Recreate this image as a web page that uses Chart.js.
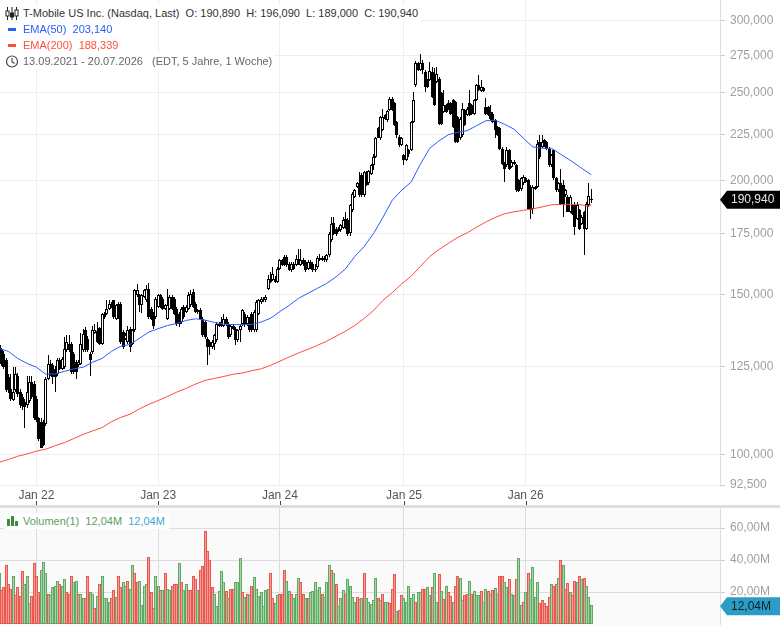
<!DOCTYPE html>
<html lang="de">
<head>
    <meta charset="UTF-8">
    <title>T-Mobile US Inc.</title>
    <script src="https://cdn.jsdelivr.net/npm/chart.js"></script>
    <style>
        body {
            margin: 0;
            background-color: white;
            font-family: "Liberation Sans", Arial, sans-serif;
        }
        #page {
            position: relative;
            width: 780px;
            height: 625px;
            overflow: hidden;
        }
        #divider {
            position: absolute;
            left: 0;
            top: 505px;
            width: 780px;
            height: 3px;
            background-color: #dedede;
        }
        #volume-bg {
            position: absolute;
            left: 0;
            top: 508px;
            width: 720px;
            height: 117px;
            background-color: #fafafa;
        }
        canvas {
            position: absolute;
            left: -1px;
        }
        #priceChart { top: 0; }
        #volumeChart { top: 508px; }
        .row {
            position: absolute;
            left: 0;
            height: 16px;
            line-height: 16px;
            font-size: 11px;
            background-color: white;
            padding-right: 3px;
            white-space: pre;
        }
        .row span { position: relative; }
        .row svg { position: absolute; left: 5px; top: 2px; }
        .row .label { margin-left: 23px; }
        #row1 { top: 5px; color: #333; }
        #row2 { top: 21px; color: #2a5cff; }
        #row3 { top: 37px; color: #ff4d3d; }
        #row4 { top: 53px; color: #666; }
        #row5 {
            top: 513px;
            height: 16px;
            color: #5a9e5e;
            left: 4px;
            padding-right: 4px;
        }
        #row5 .label { margin-left: 19px; }
        #row5 .blue { color: #45a5d6; }
    </style>
</head>
<body>
    <div id="page">
        <div id="divider"></div>
        <div id="volume-bg"></div>
        <canvas id="priceChart" width="781" height="505"></canvas>
        <canvas id="volumeChart" width="781" height="117"></canvas>

        <div class="row" id="row1"><svg width="14" height="13" viewBox="0 0 14 13"><path d="M2.5 0v13M7 0v13M11.5 0v13" stroke="#222" fill="none"/><rect x="1" y="4" width="3" height="5" fill="white" stroke="#222"/><rect x="5.5" y="6" width="3" height="4" fill="#222" stroke="#222"/><rect x="10" y="3" width="3" height="6" fill="white" stroke="#222"/></svg><span class="label">T-Mobile US Inc. (Nasdaq, Last)  O: 190,890  H: 196,090  L: 189,000  C: 190,940</span></div>
        <div class="row" id="row2"><svg width="14" height="12" viewBox="0 0 14 12"><rect x="3" y="5" width="8" height="3" fill="#2a5cff"/></svg><span class="label">EMA(50)  203,140</span></div>
        <div class="row" id="row3"><svg width="14" height="12" viewBox="0 0 14 12"><rect x="3" y="5" width="8" height="3" fill="#ff4d3d"/></svg><span class="label">EMA(200)  188,339</span></div>
        <div class="row" id="row4"><svg width="14" height="13" viewBox="0 0 14 13"><circle cx="7" cy="6.5" r="5.5" fill="none" stroke="#444" stroke-width="1.2"/><path d="M7 3v3.7l2.5 1.8" fill="none" stroke="#444" stroke-width="1.1"/></svg><span class="label">13.09.2021 - 20.07.2026   (EDT, 5 Jahre, 1 Woche)</span></div>
        <div class="row" id="row5"><svg width="12" height="12" viewBox="0 0 12 12" style="left:3px;top:2px"><rect x="0" y="4" width="3" height="7" fill="#3d8b40"/><rect x="4" y="1" width="3" height="10" fill="#3d8b40"/><rect x="8" y="6" width="3" height="5" fill="#3d8b40"/></svg><span class="label">Volumen(1)  12,04M  <span class="blue">12,04M</span></span></div>
    </div>

    <script>
        // weekly candles 13.09.2021 - 20.07.2026
        const opens = [
            131.8,130.1,129,126.9,121.6,118.1,114.8,117.6,122.1,117.1,
            115.6,114.2,113.2,114.6,120.1,119.6,115.1,109.5,108.5,108.2,
            108,121.1,125.8,125.3,124.2,122.6,126.9,124.2,124.8,130.1,
            132.4,132.4,129,126.4,125.3,125.8,130.1,136.9,134,129,
            129.6,136,136.7,137.6,132.4,142.8,142.8,144.6,146.5,147.7,
            141,146.5,146.5,136.3,134,132.9,137.5,132.4,136.9,149.6,
            149.6,145.9,149,147.7,152.2,144.6,142.8,141.6,145.3,149.6,
            148.3,144.6,141,144.6,149,148.3,144.6,142.8,139.8,145.3,
            143.4,144.6,145.9,150.9,146.5,144,144,141,139.8,134,
            132.9,131.2,132.4,133.5,138.6,139.8,138.6,141,139.2,135.2,
            138.6,137.5,133.5,136.9,139.2,142.8,139.2,141,142.8,136.9,
            136.9,142.8,147.1,148.3,147.7,152.2,156,155.4,156,154.9,
            160,163.5,164.9,164.9,162.1,159.4,162.1,161.4,164.2,161.4,
            163.8,162.8,160,162.8,162.1,159.4,160.7,163.8,164.6,164.6,
            163.5,165.6,172,179.7,177.1,176.1,176.4,177.6,181.7,181.2,
            175.2,185.6,192.2,197,198.7,202.9,192.8,204.5,198.7,203.7,
            208,212.4,228.4,222.7,227.4,236.2,233.2,239.2,246.4,243.4,
            232.2,223.6,218.9,213.3,211.1,216.1,216.1,232.2,254.9,269.4,
            264.8,269.4,263.6,258.1,258.1,263.6,259.2,257,259.2,249.6,
            238.2,242.3,243.4,243.4,245.4,244.3,235.2,222.7,224.5,239.2,
            236.2,243.4,242.3,237.2,245.4,254.9,251.3,252.8,241.2,241.2,
            238.2,237.2,233.2,229.4,228.4,217,208.9,208,216.1,207.1,
            209.8,208,200.3,195.7,198.7,201.2,200.3,197,186.3,196.1,
            197,220.8,218,221.7,220.8,217,208,216.1,201.2,195.3,
            198.7,197.9,192.8,192,184.8,188,188.7,181.7,185.6,179.4,
            184.8,177.1,188,190.89
        ];
        const closes = [
            127.9,125.8,124.8,117.6,117.6,115.1,117.1,122.6,116.6,113.2,
            112.9,112.8,117.1,120.1,115.6,109.5,109,104,101.7,102.3,
            121.1,125.8,122.6,121.6,121.6,126.9,124.2,127.4,130.6,133,
            130.1,123.2,123.2,123.2,126.4,132.4,135.7,130.1,130.1,126.9,
            136.9,136.9,133,132.4,142.8,141.6,144.6,146.5,145.3,141.6,
            145.9,141.6,132.9,131.2,135.2,136.9,131.2,136.9,151.5,151.5,
            145.9,149.6,151.5,152.2,141.6,141,138.6,148.3,149.6,145.3,
            144.6,145.9,145.9,149,144.6,142.8,139.2,139.2,144.6,141.6,
            145.3,149.8,150.2,145.3,143.4,143.4,141,135.2,134.6,131.2,
            131.2,132.9,135.2,139.2,139.2,138.6,141,139.2,134.6,138.6,
            137.5,133.5,136.9,138.6,144,138.8,141.6,136.9,136.9,143.4,
            147.1,147.7,148.3,147.7,149,156,154.9,158,154.9,160,
            163.5,161.4,161.4,161.4,159.4,162.1,160,164.2,162.1,163.5,
            161.8,159.4,162.8,160.7,159.4,160,164.6,164.6,163.8,163.5,
            165.6,174.9,179.4,174.9,174.9,177.1,178.6,180.9,177.6,174.9,
            188,193.6,195.3,198.7,192.8,192.8,204.5,197.9,205,208,
            212.4,222.7,223.2,235.2,235.2,234.2,238.6,246.4,239.2,230.4,
            224.5,218.9,222.7,211.1,218.9,214.2,232.2,245.4,269.8,264.8,
            269.4,264.8,254,254,264.3,247.4,242.3,262.1,231.2,231,
            242.3,238.2,240.2,237.2,229.4,220.8,220.8,234.2,240.2,230.4,
            240.2,236.2,237.2,245.4,254.9,251.7,253.4,251.3,237.2,236.2,
            234.2,232.2,227.4,224.5,217,208.9,206.3,216.1,206.3,209.8,
            208.6,195.3,194.8,201.2,202,199.5,186.3,185.9,197,197,
            219.8,212.4,220.8,218.9,217,208,213.3,201.2,195.3,198.7,
            188.7,188,195.3,184.8,192,184,177.9,188,177.1,182.5,
            177.1,188.7,192.3,190.94
        ];
        const highs = [
            132.3,131,130,127.5,122.5,122.7,124.8,124.8,123,118,
            116.5,115,122.1,122.1,122.1,120.5,116,110,109.5,109,
            121.5,128.5,126.9,126,125,127.5,127.5,128,134.6,135.2,
            135.2,133,129.5,127,127,136,137.5,138,135,129.5,
            138.5,139,140,138,143.2,143.5,147.7,147.7,147,148,
            146.5,147,147,137,136,138.6,138,137.5,152.2,154,
            150.2,150.2,152.2,153.4,154.5,145.3,143.4,149,150,150.2,
            149,146.5,152.2,149.6,149.6,149,145.3,143.4,145.3,146,
            146,150.9,151.5,152,147,144.6,144.8,141.6,140.4,134.6,
            133.5,133.5,135.8,139.8,140,141.6,142.8,141.6,139.8,139.2,
            139.2,138,137.5,139.2,144.6,143.4,142.2,141.6,143.4,144,
            147.7,148.3,149,149,149.9,157.4,158.7,160.7,157,160.7,
            164.2,164.2,165.6,165.6,162.8,162.8,162.8,165.6,168.4,168.4,
            164.5,163.5,163.5,163.5,162.8,162,165.3,166.3,165.3,165.3,
            166.3,175.6,182.5,182.5,177.8,177.8,179.4,182.5,184.8,182,
            188.8,194.4,196.1,199.5,204.5,204,205.3,205.3,205.8,208.8,
            214,223.5,229.4,236,240,237,239.4,247.4,247.4,244.3,
            233,224.5,223.6,214,219.6,217,233,250.6,271.1,270,
            275.8,272,264.8,258.8,270.5,267,265.9,267,260,250.6,
            251.7,243,245.4,244,246.4,245,236,235,243.4,240,
            241,251.7,243,246.4,255.8,261.4,258.1,253.6,246.8,242,
            242.3,238,234,230,229,217.8,209.6,218,217,210.6,
            211.1,208.8,201,202,202.8,202,201,197.8,197.8,197.6,
            221.7,224.5,224.5,222.5,221.5,217.8,214,217,202,199.4,
            206.3,200.3,196,192.8,192.8,188.7,189.4,189.5,186.3,183.2,
            185.5,189.4,198.9,196.09
        ];
        const lows = [
            126.9,125,124,117,116.8,114.6,114.5,117,115.5,112.5,
            112,106.9,112.5,114,115,109,108.5,103.5,101.5,102,
            107.5,120.8,122.1,119.6,117.1,122,123.7,123.7,124.2,129.5,
            129.5,122.5,122.7,121.1,124.8,125.3,129.5,129.5,129.5,122.1,
            129,135.5,132.5,132,131.8,141,142.5,144,144.8,141,
            140.6,141,132.4,130.7,133.5,132.4,129.6,132,136.5,149,
            143.4,143.2,148.5,147.2,141,140.6,137.5,141,144.8,144.8,
            144,144,140.6,144,144,142.2,138.6,138,139.2,141,
            143,144,145.3,144.8,143,142.8,140.4,134.6,134,125.3,
            128.5,130.7,130.1,133,138,138,138,138.6,134,134.6,
            137,131.8,133,132.9,138.6,138.2,138.6,136.3,136.3,136.3,
            136.3,142.2,146.5,147.1,147.1,151.5,154.4,155,154.4,154.4,
            159.4,161,161,160.7,159,158.7,159.4,161,161.6,161,
            161.2,158.7,159.4,160,158.7,158.7,160,163.2,163.2,163,
            163,165,171.3,174.2,173.8,175.5,175.8,177,177,173.8,
            173.8,185,191.5,196.2,192,192,192,197.2,198,203,
            205.4,211.8,222.7,222,226.8,233.5,232.2,238.5,238.5,229.8,
            222.7,218,218.2,208,210.4,212.4,215.5,231.5,254,264,
            264,262,250.6,253.2,257.4,246.6,241.5,256,230.5,230.4,
            237.4,237.4,239.5,236.6,228.4,220,220.2,222,223.6,229.6,
            235.5,235.5,236.6,236.6,244.6,251,250.6,250.6,236.6,235.5,
            233.5,231.5,222.7,224,216.2,208.2,199.5,207.4,205.6,206.4,
            208,194.6,194.2,195,198,198.8,185.7,181.7,184,195.6,
            196.4,211.6,217.3,218,216.3,207.4,207.4,200.6,194.6,194.6,
            188,182.5,192.2,184.8,184.2,183.4,174.4,181,176.4,178.8,
            165.6,176.5,187.3,189
        ];

        // EMA lines, read every fourth week
        const emaWeeks = [
            0,4,8,12,16,20,24,28,32,36,40,44,48,52,56,60,64,68,72,76,80,84,88,92,96,100,
            104,108,112,116,120,124,128,132,136,140,144,148,152,156,160,164,168,172,176,
            180,184,188,192,196,200,204,208,212,216,220,224,228,232,236,240,244,248,252,253
        ];
        const ema50 = [
            130.8,129.8,127.5,125.9,124.7,122.5,122.6,123.4,124.2,124.7,126.3,127.5,129.8,
            131.5,132.1,134.2,136.3,137.5,138.6,139.3,140.4,141,140.5,139.7,139.1,138.9,
            138.9,139,139.8,141.2,143.6,145.9,148.5,150.4,152.3,154.2,156.8,160,165.1,169.4,
            175,182.3,190.4,195.3,199.3,208.6,217.2,221.4,224.8,226.2,227.1,230,232.9,233.2,
            230.8,228,222.8,218,217.2,217.2,213.9,210.7,207.3,203.9,203.14
        ];
        const ema200 = [
            98,98.7,99.5,100.1,100.8,101.3,102.2,103,104.1,105.2,106.1,107,108.6,109.8,110.7,
            112.2,113.5,114.6,115.8,117.1,118.2,119.5,120.6,121.2,121.8,122.5,122.9,123.6,
            124.2,125.3,126.6,128,129.3,130.5,131.8,133.2,134.9,136.6,138.6,141.1,144,147.7,
            150.7,154,157,161,165.1,168.1,170.7,173.3,175.3,177.8,180.2,182.3,184,184.9,185.6,
            186.3,187.2,188.2,188.4,188.4,188.4,187.5,188.339
        ];

        // volume in millions, and whether the week counted as up (1) or down (0)
        const volumes = [
            32,21,23,37,25,22,30,18,23,17.5,
            33,25,30,13,17.5,38,30,20,34,39,
            32,18.5,18,23,23.5,27,25,24,28,20,
            19,30,26,27,19,18.5,16.5,16.5,30,20,
            18.5,10,17.5,25,30,16,16,13.5,16.5,21,
            17,30,23,26,24,27,22,37,32,26.5,
            27,12,24,25,42,20,10,30,23.5,21,
            21,32,22,21.5,23.5,25,25,38,26,21.5,
            25,21.5,21.5,30,28,21.5,33.5,36.5,58,45.5,
            40,23,19,11,20.5,33,26.5,20.5,16,22,
            22,26.5,26.5,41.5,20,17,19,18,24,29.6,
            21.7,17.5,20,11,21,21.7,32,16,13,18,
            19,18.5,33.5,27,20.5,19,16,18.5,28.5,26,
            18.5,16,16.5,20,20.5,26,21,23,18.5,17,
            26,37,34,32,25,11,16,21,19,28,
            23.5,17,14,17,15.5,16,32,16.5,14,12.5,
            15,29,16.5,15,18.5,13.5,13.5,13,21.7,31,
            8,9,18,16.5,14,24,16.5,19,13.5,20,
            20,21.7,21.7,23,18,23,32,13.5,31,20.5,
            15.5,23.5,20,17.5,14,24,30,28.5,15,18,
            19,27,18.5,20.5,18,18,20.5,14,21.7,20.5,
            19,21,22.5,19,30,30,26.5,23,28,19,
            18,28,41,11.7,14,20,31.7,28,35.5,16.7,
            26,13,15,13,11,16.7,25,24,25,28.5,
            40,37,21.7,25.4,20,18,26.7,26,30,28,
            29,24,17,12.04
        ];
        const volumeUp = [
            1,0,0,0,0,0,1,0,0,0,
            0,1,1,1,0,0,0,0,1,1,
            1,0,1,1,1,1,0,1,1,0,
            0,0,1,1,0,1,1,0,0,1,
            1,0,1,0,1,1,1,1,0,0,
            1,0,0,1,1,0,1,1,0,0,
            1,1,1,1,0,0,0,1,1,0,
            1,0,1,1,0,0,0,1,0,1,
            1,0,0,0,0,1,0,0,0,0,
            0,0,1,1,1,1,1,0,1,0,
            0,1,1,1,0,1,0,1,0,1,
            1,1,1,1,1,1,0,0,1,1,
            0,0,0,1,1,0,1,1,1,0,
            0,1,0,1,1,1,1,1,0,1,
            1,1,0,1,0,1,1,1,0,1,
            1,1,1,0,0,1,0,1,1,1,
            1,1,0,1,0,1,1,0,0,0,
            1,0,0,1,1,1,1,1,0,1,
            1,0,0,1,1,0,1,1,0,1,
            0,1,0,0,1,0,0,1,1,0,
            0,1,0,1,1,1,0,1,1,0,
            1,0,1,1,0,0,1,1,0,1,
            1,0,1,1,0,1,0,1,1,1,
            1,0,0,0,0,0,1,0,0,1,
            0,1,0,0,1,0,0,1,0,1,
            0,1,1,1
        ];

        const priceTicks = [92.5, 100, 125, 150, 175, 200, 225, 250, 275, 300];
        const volumeTicks = [20, 40, 60];
        const janWeeks = [16, 68, 120, 173, 225];
        const janLabels = ['Jan 22', 'Jan 23', 'Jan 24', 'Jan 25', 'Jan 26'];
        const lastClose = 190.94;
        const lastVolume = 12.04;

        // the axis runs on past the last candle, one category per week
        const weekLabels = [];
        const weekDate = new Date(Date.UTC(2021, 8, 13));
        for (let i = 0; i < 309; i++) {
            weekLabels.push(weekDate.toISOString().slice(0, 10));
            weekDate.setUTCDate(weekDate.getUTCDate() + 7);
        }

        const tickFont = { family: '"Liberation Sans", Arial, sans-serif', size: 12 };
        const tickColor = '#a0a0a0';

        function priceText(v) { return v.toFixed(3).replace('.', ','); }
        function volumeText(v) { return v.toFixed(2).replace('.', ',') + 'M'; }
        function emaPoints(values) {
            return values.map((v, i) => ({ x: weekLabels[emaWeeks[i]], y: v }));
        }

        function drawFlag(chart, scaleId, value, text, fill, textColor, shift) {
            const ctx = chart.ctx;
            const scale = chart.scales[scaleId];
            const y = scale.getPixelForValue(value) + shift;
            const left = scale.left;
            ctx.save();
            ctx.fillStyle = fill;
            ctx.beginPath();
            ctx.moveTo(left, y);
            ctx.lineTo(left + 7, y - 9);
            ctx.lineTo(781, y - 9);
            ctx.lineTo(781, y + 9);
            ctx.lineTo(left + 7, y + 9);
            ctx.closePath();
            ctx.fill();
            ctx.fillStyle = textColor;
            ctx.font = '12px "Liberation Sans", Arial, sans-serif';
            ctx.textBaseline = 'middle';
            ctx.fillText(text, left + 11, y + 0.5);
            ctx.restore();
        }

        // keep bars on whole pixels so the weekly candles stay crisp
        const snapBars = {
            id: 'snapBars',
            beforeDatasetsDraw(chart) {
                chart.getSortedVisibleDatasetMetas().forEach((meta) => {
                    if (meta.type !== 'bar') return;
                    meta.data.forEach((bar) => {
                        bar.x = Math.floor(bar.x) + 0.5;
                        bar.y = Math.round(bar.y);
                        bar.base = Math.round(bar.base);
                        if (bar.y === bar.base) bar.base += 1;
                    });
                });
            }
        };

        const priceExtras = {
            id: 'priceExtras',
            afterDraw(chart) {
                const ctx = chart.ctx;
                ctx.save();
                ctx.strokeStyle = '#444';
                janWeeks.forEach((w) => {
                    const x = Math.round(chart.scales.x.getPixelForValue(w)) + 0.5;
                    ctx.beginPath();
                    ctx.moveTo(x, 501);
                    ctx.lineTo(x, 505);
                    ctx.stroke();
                });
                ctx.restore();
                drawFlag(chart, 'y', lastClose, priceText(lastClose), '#000', '#e8e8e8', 0.5);
            }
        };

        const volumeExtras = {
            id: 'volumeExtras',
            afterDraw(chart) {
                drawFlag(chart, 'y', lastVolume, volumeText(lastVolume), '#2a9cc6', '#10222a', 1.5);
            }
        };

        const priceChart = new Chart(document.getElementById('priceChart'), {
            type: 'bar',
            data: {
                labels: weekLabels,
                datasets: [
                    {
                        type: 'line',
                        data: emaPoints(ema50),
                        borderColor: '#2a5cff',
                        borderWidth: 1,
                        pointRadius: 0,
                        order: 0
                    },
                    {
                        type: 'line',
                        data: emaPoints(ema200),
                        borderColor: '#ff4d3d',
                        borderWidth: 1,
                        pointRadius: 0,
                        order: 0
                    },
                    {
                        data: opens.map((o, i) => [o, closes[i]]),
                        backgroundColor: closes.map((c, i) => c >= opens[i] ? '#ffffff' : '#000000'),
                        borderColor: '#000000',
                        borderWidth: 1,
                        borderSkipped: false,
                        barThickness: 3,
                        grouped: false,
                        inflateAmount: 0,
                        order: 1
                    },
                    {
                        data: lows.map((l, i) => [l, highs[i]]),
                        backgroundColor: '#000000',
                        barThickness: 1,
                        grouped: false,
                        inflateAmount: 0,
                        order: 2
                    }
                ]
            },
            options: {
                responsive: false,
                animation: false,
                events: [],
                layout: { padding: 0 },
                plugins: { legend: { display: false }, tooltip: { enabled: false } },
                scales: {
                    x: {
                        offset: false,
                        grid: { color: '#eeeeee', offset: false, drawTicks: false },
                        border: { display: false },
                        afterBuildTicks(scale) { scale.ticks = janWeeks.map((w) => ({ value: w })); },
                        afterFit(scale) {
                            scale.height = 19;
                            scale.paddingLeft = 0;
                            scale.paddingRight = 0;
                        },
                        ticks: {
                            autoSkip: false,
                            maxRotation: 0,
                            padding: 2,
                            color: '#555',
                            font: tickFont,
                            callback(value, index) { return janLabels[index]; }
                        }
                    },
                    y: {
                        type: 'logarithmic',
                        position: 'right',
                        min: 92.28,
                        max: 316.3,
                        grid: { color: '#eeeeee', tickColor: '#cccccc', tickLength: 5 },
                        border: { color: '#dddddd' },
                        afterBuildTicks(scale) { scale.ticks = priceTicks.map((v) => ({ value: v })); },
                        afterFit(scale) {
                            scale.width = 60;
                            scale.paddingTop = 0;
                            scale.paddingBottom = 0;
                        },
                        ticks: {
                            autoSkip: false,
                            padding: 5,
                            color: tickColor,
                            font: tickFont,
                            callback(value) { return priceText(value); }
                        }
                    }
                }
            },
            plugins: [snapBars, priceExtras]
        });

        const volumeChart = new Chart(document.getElementById('volumeChart'), {
            type: 'bar',
            data: {
                labels: weekLabels,
                datasets: [{
                    data: volumes,
                    backgroundColor: volumeUp.map((u) => u ? '#a6d6a4' : '#f79a96'),
                    borderColor: volumeUp.map((u) => u ? '#5fa968' : '#e8584f'),
                    borderWidth: 1,
                    borderSkipped: false,
                    barThickness: 3,
                    inflateAmount: 0
                }]
            },
            options: {
                responsive: false,
                animation: false,
                events: [],
                layout: { padding: { bottom: 1 } },
                plugins: { legend: { display: false }, tooltip: { enabled: false } },
                scales: {
                    x: {
                        offset: false,
                        grid: { color: '#dddddd', offset: false, drawTicks: false },
                        border: { display: false },
                        afterBuildTicks(scale) { scale.ticks = janWeeks.map((w) => ({ value: w })); },
                        afterFit(scale) {
                            scale.height = 0;
                            scale.paddingLeft = 0;
                            scale.paddingRight = 0;
                        },
                        ticks: { display: false, autoSkip: false, maxRotation: 0 }
                    },
                    y: {
                        position: 'right',
                        min: 0,
                        max: 72.5,
                        grid: { color: '#dddddd', tickColor: '#cccccc', tickLength: 5 },
                        border: { color: '#dddddd' },
                        afterBuildTicks(scale) { scale.ticks = volumeTicks.map((v) => ({ value: v })); },
                        afterFit(scale) {
                            scale.width = 60;
                            scale.paddingTop = 0;
                            scale.paddingBottom = 0;
                        },
                        ticks: {
                            autoSkip: false,
                            padding: 5,
                            color: tickColor,
                            font: tickFont,
                            callback(value) { return volumeText(value); }
                        }
                    }
                }
            },
            plugins: [snapBars, volumeExtras]
        });
    </script>
</body>
</html>
